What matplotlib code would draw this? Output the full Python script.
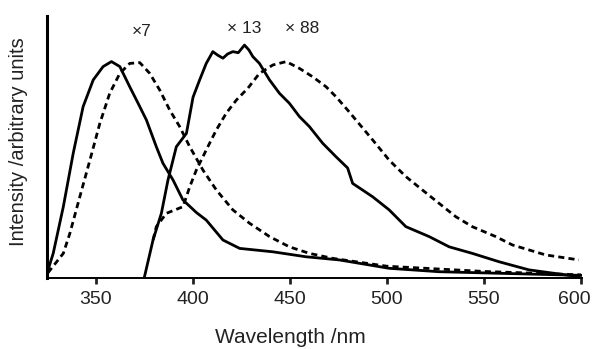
import matplotlib
matplotlib.use("Agg")
import matplotlib.pyplot as plt
from matplotlib.transforms import ScaledTranslation

plt.rcParams['font.family'] = ['Liberation Sans', 'DejaVu Sans']

# Solid curve, short wavelength (peak ~358 nm)
A_x = [325.5, 328.2, 333.4, 338.5, 343.6, 348.8, 353.9, 358.2, 362.5, 367.6, 371.9, 376.2,
       381.3, 384.7, 389.9, 395.0, 401.9, 407.0, 415.6, 424.2, 441.3, 458.4, 475.5, 501.2,
       526.9, 557.8, 600.0]
A_y = [0.030, 0.094, 0.272, 0.476, 0.654, 0.756, 0.807, 0.826, 0.807, 0.730, 0.667, 0.603,
       0.501, 0.438, 0.374, 0.298, 0.250, 0.221, 0.145, 0.113, 0.100, 0.081, 0.069, 0.037,
       0.024, 0.018, 0.010]

# Dashed curve, short wavelength (peak ~372 nm, x7)
B_x = [325.5, 333.4, 336.8, 341.9, 347.1, 352.2, 357.3, 362.5, 367.6, 372.8, 377.9, 383.0,
       388.2, 393.3, 398.5, 405.3, 412.2, 420.7, 429.3, 439.6, 449.8, 460.1, 472.1, 500.0,
       550.0, 600.0]
B_y = [0.020, 0.094, 0.171, 0.310, 0.450, 0.590, 0.705, 0.781, 0.819, 0.822, 0.781, 0.718,
       0.641, 0.578, 0.501, 0.412, 0.336, 0.260, 0.209, 0.158, 0.119, 0.094, 0.075, 0.045,
       0.025, 0.012]

# Solid curve, long wavelength (peak ~427 nm, x13)
C_x = [375.3, 379.6, 383.9, 387.3, 391.6, 396.8, 400.2, 403.6, 407.0, 410.4, 413.0, 415.6,
       418.0, 420.7, 423.5, 426.7, 429.0, 431.0, 434.4, 439.6, 444.7, 449.8, 455.0, 460.1,
       467.0, 473.8, 479.8, 482.4, 492.7, 501.2, 509.8, 521.8, 532.1, 544.0, 557.8, 573.2,
       598.9]
C_y = [0.008, 0.145, 0.247, 0.374, 0.501, 0.552, 0.690, 0.756, 0.819, 0.864, 0.850, 0.839,
       0.855, 0.864, 0.860, 0.889, 0.870, 0.845, 0.819, 0.756, 0.705, 0.667, 0.616, 0.578,
       0.514, 0.463, 0.420, 0.361, 0.310, 0.260, 0.196, 0.158, 0.119, 0.094, 0.062, 0.031,
       0.005]

# Dashed curve, long wavelength (peak ~448 nm, x88)
D_x = [379.6, 381.3, 386.5, 395.0, 398.5, 401.9, 405.3, 408.7, 412.2, 417.3, 422.5, 428.4,
       434.4, 441.3, 448.2, 455.0, 461.8, 468.7, 473.8, 479.8, 484.1, 492.7, 501.2, 509.8,
       518.3, 526.9, 535.5, 544.0, 556.1, 564.7, 581.8, 598.9]
D_y = [0.145, 0.196, 0.247, 0.272, 0.348, 0.412, 0.463, 0.514, 0.565, 0.629, 0.679, 0.724,
       0.781, 0.813, 0.826, 0.800, 0.768, 0.730, 0.692, 0.641, 0.603, 0.527, 0.450, 0.387,
       0.336, 0.285, 0.234, 0.196, 0.158, 0.126, 0.088, 0.069]

x_ticks = [350, 400, 450, 500, 550, 600]
factor_labels = ["\u00d77", "\u00d7 13", "\u00d7 88"]
factor_pos = [(373.5, 0.94), (426.7, 0.952), (456.3, 0.952)]

fig = plt.figure(figsize=(5.95, 3.49), dpi=100)
ax = fig.add_axes([47/595, 71/349, 535/595, 262/349])

dash = (0, (2.2, 1.5))
ax.plot(A_x, A_y, color='black', lw=2.0)
ax.plot(B_x, B_y, color='black', lw=2.0, linestyle=dash)
ax.plot(C_x, C_y, color='black', lw=2.0)
ax.plot(D_x, D_y, color='black', lw=2.0, linestyle=dash)

ax.set_xlim(325, 600.5)
ax.set_ylim(0, 1)
ax.spines['top'].set_visible(False)
ax.spines['right'].set_visible(False)
ax.spines['left'].set_linewidth(2.2)
ax.spines['bottom'].set_linewidth(1.4)
ax.set_yticks([])
ax.set_xticks(x_ticks)
ax.set_xticklabels([str(t) for t in x_ticks])
ax.tick_params(axis='x', direction='out', length=4, width=2, labelsize=14,
               pad=5, colors='#222222')
last = ax.get_xticklabels()[-1]
last.set_transform(last.get_transform() + ScaledTranslation(-7/100, 0, fig.dpi_scale_trans))

for lab, (xx, yy) in zip(factor_labels, factor_pos):
    ax.text(xx, yy, lab, ha='center', va='center', fontsize=12.5, color='#222222')

fig.text(290.5/595, 1 - 343/349, "Wavelength /nm", ha='center', va='baseline',
         fontsize=15, color='#222222')
fig.text(19/595, 1 - 141.5/349, "Intensity /arbitrary units", ha='center', va='center',
         rotation=90, fontsize=14.5, color='#222222')

fig.savefig("out.png", dpi=100)
